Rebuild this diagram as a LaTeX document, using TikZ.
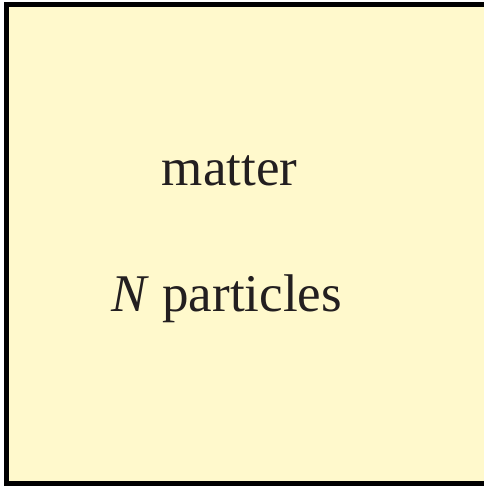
\documentclass[tikz,border=0pt]{standalone}
\usepackage{fontspec}
\setmainfont{Liberation Serif}
\definecolor{boxfill}{HTML}{FFF9CC}
\definecolor{inkc}{HTML}{231F20}
\tikzset{
  lbl/.style={font=\fontsize{53}{60}\selectfont, text=inkc, inner sep=0pt, anchor=base}
}
\begin{document}
\begin{tikzpicture}[x=1pt,y=1pt]
\useasboundingbox (0,0) rectangle (483,487);
\fill[white] (0,0) rectangle (483,487);
\draw[line width=5pt, fill=boxfill] (6.5,3) rectangle (495,482.5);
\node[lbl] (matter) at (229.5,301) {matter};
\node[lbl] (npart) at (226.7,175.5) {\textit{N} particles};
\end{tikzpicture}
\end{document}
